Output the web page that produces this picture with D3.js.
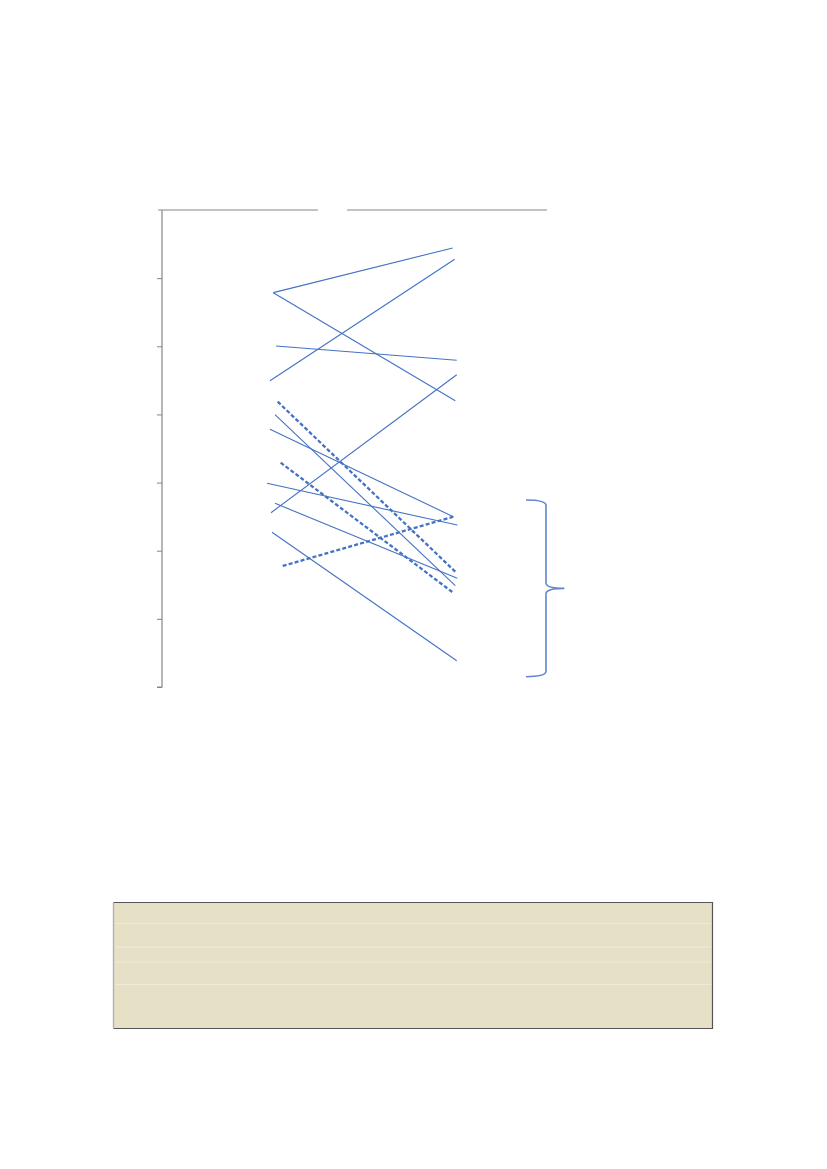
<!DOCTYPE html>
<html>
<head>
<meta charset="utf-8">
<script src="https://cdn.jsdelivr.net/npm/d3@7"></script>
<style>
  html, body { margin: 0; padding: 0; background: #ffffff; }
  svg { display: block; }
</style>
</head>
<body>
<script>
// ---- data ----
const yTicks = [0, 1, 2, 3, 4, 5, 6, 7];
const lineIds   = ["A", "B", "C", "D", "E", "F", "G", "H", "I", "J", "K", "L", "M"];
const lineStyle = ["solid","solid","solid","solid","solid","solid","solid","solid","solid","solid","dashed","dashed","dashed"];
const startX = [2.891, 2.891, 2.805, 2.961, 2.831, 2.935, 2.805, 2.727, 2.935, 2.857, 3.005, 3.083, 3.135];
const endX   = [7.551, 7.618, 7.603, 7.655, 7.655, 7.618, 7.566, 7.670, 7.670, 7.655, 7.618, 7.584, 7.566];
const startY = [5.787, 5.787, 4.495, 5.004, 2.558, 3.996, 3.782, 2.989, 2.696, 2.270, 4.187, 3.292, 1.776];
const endY   = [6.443, 4.202, 6.277, 4.795, 4.583, 1.487, 2.499, 2.377, 1.595, 0.386, 1.692, 1.375, 2.499];
const braceY = [2.744, 1.448, 0.151];   // top, tip, bottom (value units)
const braceX = [9.455, 9.974, 10.45];   // ends, spine, tip (value units)
const tableRows = [0, 21, 44.5, 59.5, 82, 126]; // row boundaries inside the empty box

// ---- layout ----
const W = 827, H = 1169;
const svg = d3.select("body").append("svg").attr("width", W).attr("height", H);

const x = d3.scaleLinear().domain([0, 10]).range([162, 547]);
const y = d3.scaleLinear().domain([0, 7]).range([687, 210]);

const blue = "#4472c4";
const axisGrey = "#868686";

// top border line with a gap
const topGap = [4.05, 4.805];
svg.append("line").attr("x1", x(-0.1)).attr("x2", x(topGap[0])).attr("y1", y(7)).attr("y2", y(7))
  .attr("stroke", axisGrey).attr("stroke-width", 1);
svg.append("line").attr("x1", x(topGap[1])).attr("x2", x(10)).attr("y1", y(7)).attr("y2", y(7))
  .attr("stroke", axisGrey).attr("stroke-width", 1);

// y axis
const yAxis = d3.axisLeft(y).tickValues(yTicks.slice(0, 7)).tickSize(5).tickFormat("");
const gy = svg.append("g").attr("transform", `translate(${x(0)},0)`).call(yAxis);
gy.select(".domain").attr("stroke", axisGrey).attr("stroke-width", 1.2).attr("d", `M-5,${y(0)}H0V${y(7)}`);
gy.selectAll(".tick line").attr("stroke", axisGrey).attr("stroke-width", 1);

// slope lines
const lines = lineIds.map((id, i) => ({
  id, style: lineStyle[i], x1: startX[i], x2: endX[i], y1: startY[i], y2: endY[i]
}));
svg.append("g").selectAll("line").data(lines).join("line")
  .attr("x1", d => x(d.x1)).attr("y1", d => y(d.y1))
  .attr("x2", d => x(d.x2)).attr("y2", d => y(d.y2))
  .attr("stroke", blue)
  .attr("stroke-width", d => d.style === "dashed" ? 2.3 : 1.1)
  .attr("stroke-dasharray", d => d.style === "dashed" ? "4,2.2" : null);

// brace
const bx0 = x(braceX[0]), bx1 = x(braceX[1]), bx2 = x(braceX[2]);
const by0 = y(braceY[0]), by1 = y(braceY[1]), by2 = y(braceY[2]);
const bp = d3.path();
bp.moveTo(bx0, by0);
bp.quadraticCurveTo(bx1 - 1, by0, bx1, by0 + 5);
bp.lineTo(bx1, by1 - 5);
bp.quadraticCurveTo(bx1 + 1, by1, bx2, by1);
bp.quadraticCurveTo(bx1 + 1, by1, bx1, by1 + 5);
bp.lineTo(bx1, by2 - 5);
bp.quadraticCurveTo(bx1 - 1, by2, bx0, by2);
svg.append("path").attr("d", bp.toString()).attr("fill", "none")
  .attr("stroke", blue).attr("stroke-opacity", 0.85).attr("stroke-width", 1.6);

// empty box
const boxX = 113.5, boxY = 902.5, boxW = 599, boxH = 126;
svg.append("rect").attr("x", boxX).attr("y", boxY).attr("width", boxW).attr("height", boxH)
  .attr("fill", "#e6e0c7");
svg.append("g").selectAll("line").data(tableRows.slice(1, -1)).join("line")
  .attr("x1", boxX + 1).attr("x2", boxX + boxW - 1)
  .attr("y1", d => boxY + d).attr("y2", d => boxY + d)
  .attr("stroke", "#efebd9").attr("stroke-width", 1);
// borders
svg.append("path").attr("d", `M${boxX},${boxY}H${boxX + boxW}V${boxY + boxH}H${boxX}`)
  .attr("fill", "none").attr("stroke", "#555555").attr("stroke-width", 1.2);
svg.append("line").attr("x1", boxX).attr("x2", boxX).attr("y1", boxY).attr("y2", boxY + boxH)
  .attr("stroke", "#b0b0b0").attr("stroke-width", 1.4);
</script>
</body>
</html>
